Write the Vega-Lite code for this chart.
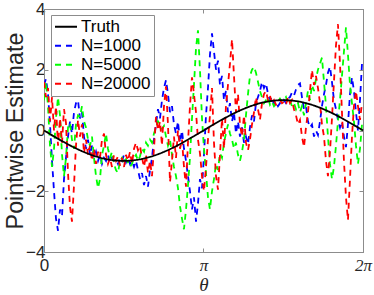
{
  "$schema": "https://vega.github.io/schema/vega-lite/v6.json",
  "width": 319,
  "height": 243,
  "autosize": {"type": "none"},
  "padding": {"left": 44, "top": 9, "right": 11, "bottom": 43},
  "background": "white",
  "config": {
    "view": {"stroke": "#8c8c8c", "strokeWidth": 1},
    "axis": {
      "grid": false,
      "domainColor": "#8c8c8c",
      "tickColor": "#8c8c8c",
      "labelColor": "#262626",
      "titleColor": "#262626",
      "labelFont": "Liberation Sans",
      "titleFont": "Liberation Sans",
      "labelFontSize": 17,
      "tickSize": -4,
      "titleFontWeight": "normal"
    },
    "legend": {
      "orient": "none",
      "legendX": 7,
      "legendY": 6,
      "padding": 3,
      "rowPadding": 0,
      "clipHeight": 17.5,
      "strokeColor": "#8c8c8c",
      "fillColor": "white",
      "labelFont": "Liberation Sans",
      "labelFontSize": 17,
      "labelColor": "#000000",
      "labelOffset": 3,
      "symbolType": "stroke",
      "symbolSize": 484,
      "symbolStrokeWidth": 1.8
    }
  },
  "datasets": {
    "truth": [
      {"t": 0, "s": "Truth", "v": 0},
      {"t": 0.1963, "s": "Truth", "v": -0.1951},
      {"t": 0.3927, "s": "Truth", "v": -0.3827},
      {"t": 0.589, "s": "Truth", "v": -0.5556},
      {"t": 0.7854, "s": "Truth", "v": -0.7071},
      {"t": 0.9817, "s": "Truth", "v": -0.8315},
      {"t": 1.1781, "s": "Truth", "v": -0.9239},
      {"t": 1.3744, "s": "Truth", "v": -0.9808},
      {"t": 1.5708, "s": "Truth", "v": -1},
      {"t": 1.7671, "s": "Truth", "v": -0.9808},
      {"t": 1.9635, "s": "Truth", "v": -0.9239},
      {"t": 2.1598, "s": "Truth", "v": -0.8315},
      {"t": 2.3562, "s": "Truth", "v": -0.7071},
      {"t": 2.5525, "s": "Truth", "v": -0.5556},
      {"t": 2.7489, "s": "Truth", "v": -0.3827},
      {"t": 2.9452, "s": "Truth", "v": -0.1951},
      {"t": 3.1416, "s": "Truth", "v": 0},
      {"t": 3.3379, "s": "Truth", "v": 0.1951},
      {"t": 3.5343, "s": "Truth", "v": 0.3827},
      {"t": 3.7306, "s": "Truth", "v": 0.5556},
      {"t": 3.927, "s": "Truth", "v": 0.7071},
      {"t": 4.1233, "s": "Truth", "v": 0.8315},
      {"t": 4.3197, "s": "Truth", "v": 0.9239},
      {"t": 4.516, "s": "Truth", "v": 0.9808},
      {"t": 4.7124, "s": "Truth", "v": 1},
      {"t": 4.9087, "s": "Truth", "v": 0.9808},
      {"t": 5.1051, "s": "Truth", "v": 0.9239},
      {"t": 5.3014, "s": "Truth", "v": 0.8315},
      {"t": 5.4978, "s": "Truth", "v": 0.7071},
      {"t": 5.6941, "s": "Truth", "v": 0.5556},
      {"t": 5.8905, "s": "Truth", "v": 0.3827},
      {"t": 6.0868, "s": "Truth", "v": 0.1951},
      {"t": 6.2832, "s": "Truth", "v": 0}
    ],
    "est": [
      {"t": 0, "N=1000": 1.5, "N=5000": 1.0, "N=20000": 1.6},
      {"t": 0.039, "N=1000": 1.7, "N=5000": 1.6, "N=20000": 1.1},
      {"t": 0.079, "N=1000": 1.2, "N=5000": 0.8, "N=20000": 1.4},
      {"t": 0.118, "N=1000": 0.2, "N=5000": -0.5, "N=20000": 0.3},
      {"t": 0.158, "N=1000": -1.0, "N=5000": -1.2, "N=20000": 1.1},
      {"t": 0.197, "N=1000": -2.0, "N=5000": -0.6, "N=20000": 0.0},
      {"t": 0.236, "N=1000": -2.9, "N=5000": 0.4, "N=20000": 0.8},
      {"t": 0.276, "N=1000": -3.3, "N=5000": 1.1, "N=20000": -0.5},
      {"t": 0.315, "N=1000": -2.6, "N=5000": 0.5, "N=20000": 0.4},
      {"t": 0.355, "N=1000": -2.8, "N=5000": -0.8, "N=20000": -0.4},
      {"t": 0.394, "N=1000": -1.6, "N=5000": -1.5, "N=20000": 0.7},
      {"t": 0.433, "N=1000": -0.9, "N=5000": -0.9, "N=20000": 0.25},
      {"t": 0.473, "N=1000": -0.2, "N=5000": 0.1, "N=20000": -1.4},
      {"t": 0.512, "N=1000": 0.3, "N=5000": 0.25, "N=20000": -2.5},
      {"t": 0.551, "N=1000": -0.1, "N=5000": -0.3, "N=20000": -3.0},
      {"t": 0.591, "N=1000": 0.6, "N=5000": -0.6, "N=20000": -1.8},
      {"t": 0.63, "N=1000": 0.9, "N=5000": 0.2, "N=20000": -0.5},
      {"t": 0.67, "N=1000": 1.0, "N=5000": 0.5, "N=20000": 0.35},
      {"t": 0.709, "N=1000": 0.4, "N=5000": 0.45, "N=20000": -0.2},
      {"t": 0.748, "N=1000": 0.6, "N=5000": 0.8, "N=20000": 0.2},
      {"t": 0.788, "N=1000": -0.2, "N=5000": 0.3, "N=20000": -0.75},
      {"t": 0.827, "N=1000": -0.6, "N=5000": 0.1, "N=20000": -0.3},
      {"t": 0.867, "N=1000": -0.3, "N=5000": -0.3, "N=20000": -0.8},
      {"t": 0.906, "N=1000": -0.8, "N=5000": -0.5, "N=20000": -0.5},
      {"t": 0.945, "N=1000": -0.5, "N=5000": -0.2, "N=20000": -1.0},
      {"t": 0.985, "N=1000": -0.9, "N=5000": -0.9, "N=20000": -0.6},
      {"t": 1.024, "N=1000": -0.7, "N=5000": -1.5, "N=20000": -1.1},
      {"t": 1.064, "N=1000": -1.0, "N=5000": -1.9, "N=20000": -0.7},
      {"t": 1.103, "N=1000": -0.8, "N=5000": -1.6, "N=20000": -0.9},
      {"t": 1.142, "N=1000": -1.1, "N=5000": -0.8, "N=20000": -0.3},
      {"t": 1.182, "N=1000": -0.9, "N=5000": -0.5, "N=20000": -0.1},
      {"t": 1.221, "N=1000": -1.0, "N=5000": -0.1, "N=20000": -0.8},
      {"t": 1.26, "N=1000": -0.8, "N=5000": -0.6, "N=20000": -1.1},
      {"t": 1.3, "N=1000": -1.05, "N=5000": -0.9, "N=20000": -0.9},
      {"t": 1.339, "N=1000": -0.9, "N=5000": -0.7, "N=20000": -1.2},
      {"t": 1.379, "N=1000": -1.0, "N=5000": -1.1, "N=20000": -0.8},
      {"t": 1.418, "N=1000": -0.95, "N=5000": -1.3, "N=20000": -1.0},
      {"t": 1.457, "N=1000": -1.1, "N=5000": -1.4, "N=20000": -0.85},
      {"t": 1.497, "N=1000": -0.9, "N=5000": -1.0, "N=20000": -1.15},
      {"t": 1.536, "N=1000": -1.0, "N=5000": -0.9, "N=20000": -0.9},
      {"t": 1.576, "N=1000": -0.8, "N=5000": -1.1, "N=20000": -1.2},
      {"t": 1.615, "N=1000": -1.05, "N=5000": -0.95, "N=20000": -0.8},
      {"t": 1.654, "N=1000": -0.9, "N=5000": -1.05, "N=20000": -1.0},
      {"t": 1.694, "N=1000": -1.1, "N=5000": -1.2, "N=20000": -0.7},
      {"t": 1.733, "N=1000": -1.0, "N=5000": -1.1, "N=20000": -1.1},
      {"t": 1.773, "N=1000": -1.2, "N=5000": -0.9, "N=20000": -0.6},
      {"t": 1.812, "N=1000": -1.0, "N=5000": -0.8, "N=20000": -0.4},
      {"t": 1.851, "N=1000": -1.3, "N=5000": -1.0, "N=20000": -0.65},
      {"t": 1.891, "N=1000": -1.6, "N=5000": -0.85, "N=20000": -0.5},
      {"t": 1.93, "N=1000": -1.4, "N=5000": -0.6, "N=20000": -0.9},
      {"t": 1.97, "N=1000": -1.8, "N=5000": -0.7, "N=20000": -1.2},
      {"t": 2.009, "N=1000": -1.5, "N=5000": -0.4, "N=20000": -0.8},
      {"t": 2.048, "N=1000": -1.85, "N=5000": -0.5, "N=20000": -1.4},
      {"t": 2.088, "N=1000": -1.3, "N=5000": -0.3, "N=20000": -1.0},
      {"t": 2.127, "N=1000": -0.9, "N=5000": -0.4, "N=20000": -1.5},
      {"t": 2.166, "N=1000": -0.3, "N=5000": -0.1, "N=20000": -0.6},
      {"t": 2.206, "N=1000": 0.2, "N=5000": 0.1, "N=20000": 0.45},
      {"t": 2.245, "N=1000": 0.7, "N=5000": 0.3, "N=20000": 0.0},
      {"t": 2.285, "N=1000": 0.4, "N=5000": 0.2, "N=20000": 0.3},
      {"t": 2.324, "N=1000": 1.0, "N=5000": 0.05, "N=20000": -0.5},
      {"t": 2.363, "N=1000": 1.4, "N=5000": 0.15, "N=20000": 0.8},
      {"t": 2.403, "N=1000": 1.66, "N=5000": -0.2, "N=20000": 1.45},
      {"t": 2.442, "N=1000": 1.2, "N=5000": -0.5, "N=20000": 0.2},
      {"t": 2.482, "N=1000": 0.6, "N=5000": -0.3, "N=20000": -1.7},
      {"t": 2.521, "N=1000": 0.8, "N=5000": -0.8, "N=20000": -1.0},
      {"t": 2.56, "N=1000": 0.2, "N=5000": -1.2, "N=20000": -0.2},
      {"t": 2.6, "N=1000": -0.1, "N=5000": -1.5, "N=20000": -0.9},
      {"t": 2.639, "N=1000": 0.3, "N=5000": -1.9, "N=20000": 0.0},
      {"t": 2.679, "N=1000": -0.4, "N=5000": -2.5, "N=20000": -0.6},
      {"t": 2.718, "N=1000": 0.0, "N=5000": -2.9, "N=20000": -0.3},
      {"t": 2.757, "N=1000": -0.6, "N=5000": -3.25, "N=20000": -1.2},
      {"t": 2.797, "N=1000": -1.0, "N=5000": -2.6, "N=20000": -1.85},
      {"t": 2.836, "N=1000": -1.5, "N=5000": -1.8, "N=20000": -0.4},
      {"t": 2.875, "N=1000": -2.0, "N=5000": -0.9, "N=20000": 0.8},
      {"t": 2.915, "N=1000": -2.6, "N=5000": 0.4, "N=20000": 1.75},
      {"t": 2.954, "N=1000": -2.2, "N=5000": 1.5, "N=20000": 1.2},
      {"t": 2.994, "N=1000": -3.0, "N=5000": 2.7, "N=20000": 0.6},
      {"t": 3.033, "N=1000": -2.4, "N=5000": 3.3, "N=20000": -0.3},
      {"t": 3.072, "N=1000": -1.6, "N=5000": 2.0, "N=20000": -0.75},
      {"t": 3.112, "N=1000": -1.9, "N=5000": 0.4, "N=20000": -1.5},
      {"t": 3.151, "N=1000": -0.8, "N=5000": -0.6, "N=20000": -2.0},
      {"t": 3.191, "N=1000": 0.5, "N=5000": -1.4, "N=20000": -1.2},
      {"t": 3.23, "N=1000": 1.4, "N=5000": -2.2, "N=20000": -0.3},
      {"t": 3.269, "N=1000": 2.5, "N=5000": -2.6, "N=20000": 0.5},
      {"t": 3.309, "N=1000": 3.2, "N=5000": -2.0, "N=20000": 1.4},
      {"t": 3.348, "N=1000": 2.6, "N=5000": -1.6, "N=20000": -0.4},
      {"t": 3.388, "N=1000": 2.0, "N=5000": -1.1, "N=20000": -1.5},
      {"t": 3.427, "N=1000": 2.3, "N=5000": -1.3, "N=20000": -1.95},
      {"t": 3.466, "N=1000": 1.5, "N=5000": -0.75, "N=20000": -0.8},
      {"t": 3.506, "N=1000": 1.8, "N=5000": -0.9, "N=20000": 0.4},
      {"t": 3.545, "N=1000": 1.0, "N=5000": -0.4, "N=20000": -0.6},
      {"t": 3.584, "N=1000": 1.3, "N=5000": -0.1, "N=20000": 0.8},
      {"t": 3.624, "N=1000": 0.6, "N=5000": 0.2, "N=20000": 1.5},
      {"t": 3.663, "N=1000": 0.9, "N=5000": -0.1, "N=20000": 2.2},
      {"t": 3.703, "N=1000": 0.3, "N=5000": -0.3, "N=20000": 3.0},
      {"t": 3.742, "N=1000": 0.6, "N=5000": -0.6, "N=20000": 1.8},
      {"t": 3.781, "N=1000": -0.1, "N=5000": -0.4, "N=20000": 0.6},
      {"t": 3.821, "N=1000": 0.3, "N=5000": -0.8, "N=20000": 1.2},
      {"t": 3.86, "N=1000": -0.2, "N=5000": -1.0, "N=20000": 0.2},
      {"t": 3.9, "N=1000": 0.1, "N=5000": -0.7, "N=20000": -0.2},
      {"t": 3.939, "N=1000": -0.4, "N=5000": -0.3, "N=20000": 0.5},
      {"t": 3.978, "N=1000": -0.2, "N=5000": 0.5, "N=20000": -0.4},
      {"t": 4.018, "N=1000": -0.45, "N=5000": 1.2, "N=20000": -0.65},
      {"t": 4.057, "N=1000": 0.1, "N=5000": 1.8, "N=20000": -0.3},
      {"t": 4.097, "N=1000": 0.5, "N=5000": 2.0, "N=20000": 0.2},
      {"t": 4.136, "N=1000": 0.3, "N=5000": 2.1, "N=20000": 0.6},
      {"t": 4.175, "N=1000": 0.9, "N=5000": 1.9, "N=20000": 1.1},
      {"t": 4.215, "N=1000": 1.1, "N=5000": 1.6, "N=20000": 0.7},
      {"t": 4.254, "N=1000": 1.3, "N=5000": 1.3, "N=20000": 0.35},
      {"t": 4.294, "N=1000": 1.6, "N=5000": 1.1, "N=20000": 0.9},
      {"t": 4.333, "N=1000": 1.4, "N=5000": 0.9, "N=20000": 1.2},
      {"t": 4.372, "N=1000": 1.55, "N=5000": 1.0, "N=20000": 1.3},
      {"t": 4.412, "N=1000": 1.2, "N=5000": 1.1, "N=20000": 1.0},
      {"t": 4.451, "N=1000": 1.0, "N=5000": 0.85, "N=20000": 1.15},
      {"t": 4.49, "N=1000": 1.1, "N=5000": 0.95, "N=20000": 0.9},
      {"t": 4.53, "N=1000": 0.85, "N=5000": 0.8, "N=20000": 1.0},
      {"t": 4.569, "N=1000": 0.95, "N=5000": 0.9, "N=20000": 0.85},
      {"t": 4.609, "N=1000": 0.8, "N=5000": 0.95, "N=20000": 0.95},
      {"t": 4.648, "N=1000": 0.9, "N=5000": 1.05, "N=20000": 1.0},
      {"t": 4.687, "N=1000": 0.85, "N=5000": 0.95, "N=20000": 0.9},
      {"t": 4.727, "N=1000": 1.0, "N=5000": 1.0, "N=20000": 0.95},
      {"t": 4.766, "N=1000": 0.9, "N=5000": 1.1, "N=20000": 0.85},
      {"t": 4.806, "N=1000": 1.05, "N=5000": 0.9, "N=20000": 1.1},
      {"t": 4.845, "N=1000": 1.1, "N=5000": 1.0, "N=20000": 0.9},
      {"t": 4.884, "N=1000": 1.25, "N=5000": 0.8, "N=20000": 1.0},
      {"t": 4.924, "N=1000": 1.15, "N=5000": 0.9, "N=20000": 0.7},
      {"t": 4.963, "N=1000": 1.35, "N=5000": 0.7, "N=20000": 0.5},
      {"t": 5.003, "N=1000": 1.5, "N=5000": 0.9, "N=20000": 0.2},
      {"t": 5.042, "N=1000": 1.55, "N=5000": 0.6, "N=20000": 0.35},
      {"t": 5.081, "N=1000": 1.1, "N=5000": 0.8, "N=20000": -0.2},
      {"t": 5.121, "N=1000": 0.7, "N=5000": 0.5, "N=20000": -0.55},
      {"t": 5.16, "N=1000": 0.8, "N=5000": 0.9, "N=20000": 0.1},
      {"t": 5.199, "N=1000": 0.3, "N=5000": 1.3, "N=20000": 0.6},
      {"t": 5.239, "N=1000": 0.1, "N=5000": 1.0, "N=20000": 1.3},
      {"t": 5.278, "N=1000": 0.2, "N=5000": 1.5, "N=20000": 2.0},
      {"t": 5.318, "N=1000": -0.2, "N=5000": 1.3, "N=20000": 1.5},
      {"t": 5.357, "N=1000": 0.0, "N=5000": 1.7, "N=20000": 1.8},
      {"t": 5.396, "N=1000": -0.15, "N=5000": 2.0, "N=20000": 1.4},
      {"t": 5.436, "N=1000": 0.3, "N=5000": 2.2, "N=20000": 0.9},
      {"t": 5.475, "N=1000": 0.8, "N=5000": 2.4, "N=20000": 0.2},
      {"t": 5.515, "N=1000": 1.2, "N=5000": 1.6, "N=20000": -0.2},
      {"t": 5.554, "N=1000": 1.5, "N=5000": 0.8, "N=20000": -1.0},
      {"t": 5.593, "N=1000": 1.9, "N=5000": -0.2, "N=20000": -1.5},
      {"t": 5.633, "N=1000": 2.1, "N=5000": -1.1, "N=20000": -0.7},
      {"t": 5.672, "N=1000": 1.6, "N=5000": -1.6, "N=20000": 0.4},
      {"t": 5.711, "N=1000": 1.0, "N=5000": -1.2, "N=20000": 1.6},
      {"t": 5.751, "N=1000": 0.7, "N=5000": -0.5, "N=20000": 2.8},
      {"t": 5.79, "N=1000": 0.35, "N=5000": 0.3, "N=20000": 3.5},
      {"t": 5.83, "N=1000": 0.1, "N=5000": 1.0, "N=20000": 2.2},
      {"t": 5.869, "N=1000": 0.3, "N=5000": 1.8, "N=20000": 0.6},
      {"t": 5.908, "N=1000": -0.2, "N=5000": 2.6, "N=20000": -1.0},
      {"t": 5.948, "N=1000": -0.55, "N=5000": 3.4, "N=20000": -2.2},
      {"t": 5.987, "N=1000": 0.2, "N=5000": 2.5, "N=20000": -2.95},
      {"t": 6.027, "N=1000": 1.2, "N=5000": 1.5, "N=20000": -1.6},
      {"t": 6.066, "N=1000": 1.75, "N=5000": 0.9, "N=20000": -0.2},
      {"t": 6.105, "N=1000": 1.3, "N=5000": 0.3, "N=20000": 0.8},
      {"t": 6.145, "N=1000": 0.6, "N=5000": -0.5, "N=20000": 1.3},
      {"t": 6.184, "N=1000": 0.0, "N=5000": -1.1, "N=20000": 0.8},
      {"t": 6.224, "N=1000": 1.0, "N=5000": -0.6, "N=20000": 0.35},
      {"t": 6.263, "N=1000": 2.2, "N=5000": 0.2, "N=20000": 0.9}
    ]
  },
  "layer": [
    {
      "data": {"name": "est"},
      "transform": [{"fold": ["N=1000", "N=5000", "N=20000"], "as": ["s", "v"]}],
      "mark": {"type": "line", "strokeWidth": 1.8, "clip": true},
      "encoding": {
        "x": {
          "field": "t", "type": "quantitative",
          "scale": {"domain": [0, 6.2832], "nice": false, "zero": false},
          "axis": {
            "orient": "bottom",
            "values": [0, 3.14159, 6.28318],
            "labelExpr": "datum.value < 1 ? '0' : datum.value < 4 ? 'π' : '2π'",
            "labelFont": {"condition": {"test": "datum.value > 1", "value": "Liberation Serif"}, "value": "Liberation Sans"},
            "labelFontStyle": {"condition": {"test": "datum.value > 1", "value": "italic"}, "value": "normal"},
            "labelFlush": false,
            "labelPadding": 9,
            "title": "θ",
            "titleFont": "Liberation Serif",
            "titleFontStyle": "italic",
            "titleFontSize": 19,
            "titlePadding": 2
          }
        },
        "y": {
          "field": "v", "type": "quantitative",
          "scale": {"domain": [-4, 4], "nice": false, "zero": false},
          "axis": {
            "orient": "left",
            "values": [-4, -2, 0, 2, 4],
            "labelPadding": 3,
            "title": "Pointwise Estimate",
            "titleFontSize": 23.3,
            "titlePadding": -1.5
          }
        },
        "color": {
          "field": "s", "type": "nominal", "title": null,
          "scale": {"domain": ["Truth", "N=1000", "N=5000", "N=20000"], "range": ["#000000", "#0000ff", "#00ff00", "#ff0000"]}
        },
        "strokeDash": {
          "field": "s", "type": "nominal", "title": null,
          "scale": {"domain": ["Truth", "N=1000", "N=5000", "N=20000"], "range": [[1, 0], [6, 5], [6, 5], [6, 5]]}
        }
      }
    },
    {
      "data": {"name": "truth"},
      "mark": {"type": "line", "strokeWidth": 1.8, "interpolate": "monotone"},
      "encoding": {
        "x": {
          "field": "t", "type": "quantitative",
          "axis": {"orient": "top", "values": [0, 3.14159, 6.28318], "labels": false, "title": null}
        },
        "y": {
          "field": "v", "type": "quantitative",
          "axis": {"orient": "right", "values": [-4, -2, 0, 2, 4], "labels": false, "title": null}
        },
        "color": {"field": "s", "type": "nominal", "title": null},
        "strokeDash": {"field": "s", "type": "nominal", "title": null}
      }
    }
  ],
  "resolve": {"axis": {"x": "independent", "y": "independent"}}
}
